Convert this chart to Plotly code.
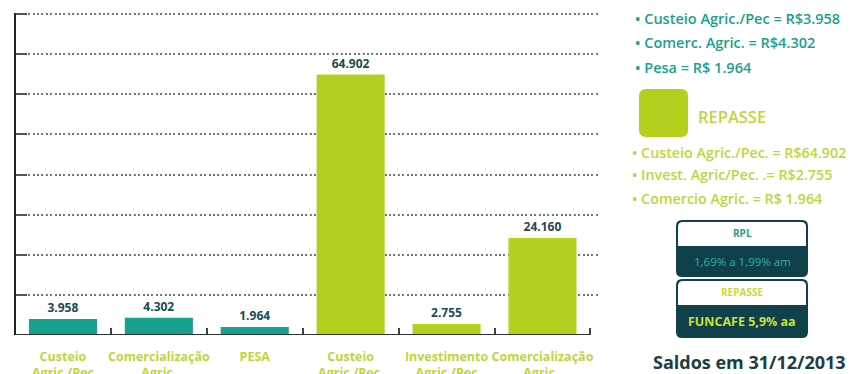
import plotly.graph_objects as go

# Saldos por linha (R$ milhões)
categorias = ["Custeio<br>Agric./Pec", "Comercialização<br>Agric.", "PESA",
              "Custeio<br>Agric./Pec ", "Investimento<br>Agric./Pec", "Comercialização<br>Agric. "]
valores = [3958, 4302, 1964, 64902, 2755, 24160]
grupo = ["RPL", "RPL", "RPL", "REPASSE", "REPASSE", "REPASSE"]

legenda_rpl = ["• Custeio Agric./Pec = R$3.958", "• Comerc. Agric. = R$4.302", "• Pesa = R$ 1.964"]
legenda_repasse = ["• Custeio Agric./Pec. = R$64.902", "• Invest. Agric/Pec. .= R$2.755",
                   "• Comercio Agric. = R$ 1.964"]
caixas = [("RPL", "1,69% a 1,99% am"), ("REPASSE", "FUNCAFE 5,9% aa")]
rodape = "Saldos em 31/12/2013"
y_ticks = [0, 10000, 20000, 30000, 40000, 50000, 60000, 70000, 80000]

TEAL = "#17a28f"
VERDE = "#b5cf1f"
VERDE_TXT = "#bfd53a"
ESCURO = "#10404a"

cores = [TEAL if g == "RPL" else VERDE for g in grupo]

W, H = 856, 374
Y_TOP = 80000          # topo da escala desenhada
Y_MAX = 82000          # folga acima do topo para a última linha de grade
L, R, B = 15, 600, 335
T = round(B - (B - 14) * Y_MAX / Y_TOP)


def px(x):
    return (x - L) / (R - L)


def py(y):
    return (B - y) / (B - T)


def rounded(x0, y0, x1, y1, r, top_only=False):
    ax0, ax1 = px(x0), px(x1)
    ay0, ay1 = py(y0), py(y1)  # ay0 top, ay1 bottom
    rx = r / (R - L)
    ry = r / (B - T)
    if top_only:
        return (f"M {ax0},{ay1} L {ax0},{ay0 - ry} Q {ax0},{ay0} {ax0 + rx},{ay0} "
                f"L {ax1 - rx},{ay0} Q {ax1},{ay0} {ax1},{ay0 - ry} L {ax1},{ay1} Z")
    return (f"M {ax0 + rx},{ay0} L {ax1 - rx},{ay0} Q {ax1},{ay0} {ax1},{ay0 - ry} "
            f"L {ax1},{ay1 + ry} Q {ax1},{ay1} {ax1 - rx},{ay1} L {ax0 + rx},{ay1} "
            f"Q {ax0},{ay1} {ax0},{ay1 + ry} L {ax0},{ay0 - ry} Q {ax0},{ay0} {ax0 + rx},{ay0} Z")


fig = go.Figure()
fig.add_trace(go.Bar(
    x=categorias, y=valores, marker=dict(color=cores, line=dict(width=0)),
    texttemplate="%{y:,}", textposition="outside", cliponaxis=False,
    textfont=dict(family="Open Sans", size=12, color="#1d4a55", weight="bold"),
    hoverinfo="skip",
))

shapes = []
# eixos: base horizontal e linha vertical até o topo da escala
shapes.append(dict(type="line", xref="x", yref="y", x0=-0.5, x1=5.5, y0=0, y1=0,
                   line=dict(color="#333", width=2), layer="above"))
shapes.append(dict(type="line", xref="paper", yref="y", x0=0, x1=0, y0=0, y1=Y_TOP + 250,
                   line=dict(color="#222", width=2), layer="above"))
# marcador da legenda REPASSE
shapes.append(dict(type="path", xref="paper", yref="paper",
                   path=rounded(639, 89, 688, 137, 7), fillcolor=VERDE, line=dict(width=0)))
# caixas de taxas
for (top, div, bot) in [(220, 246, 277), (279, 305, 338)]:
    shapes.append(dict(type="path", xref="paper", yref="paper",
                       path=rounded(676, top, 808, bot, 6), fillcolor=ESCURO, line=dict(width=0)))
    shapes.append(dict(type="path", xref="paper", yref="paper",
                       path=rounded(678, top + 2, 806, div, 5, top_only=True),
                       fillcolor="white", line=dict(width=0)))

ann = []
for i, t in enumerate(legenda_rpl):
    ann.append(dict(x=px(633), y=py([18, 43, 67][i]), text=t,
                    font=dict(color=TEAL, size=14.5, weight=600)))
ann.append(dict(x=px(696), y=py(117), text="REPASSE",
                font=dict(color=VERDE_TXT, size=16.5, weight=600)))
for i, t in enumerate(legenda_repasse):
    ann.append(dict(x=px(630), y=py([152, 175, 198][i]), text=t,
                    font=dict(color=VERDE_TXT, size=14.3, weight=600)))
for (titulo, taxa), (yt, yb), (ct, cb) in zip(
        caixas, [(233, 261), (292, 321)], [("#1e9e90", "#2ab3a2"), ("#c9da34", "#c9e03c")]):
    ann.append(dict(x=px(742), y=py(yt), xanchor="center", text=f"<b>{titulo}</b>",
                    font=dict(color=ct, size=10)))
    ann.append(dict(x=px(742), y=py(yb), xanchor="center", text=taxa,
                    font=dict(color=cb, size=11.5 if titulo == "RPL" else 12.5,
                              weight="bold" if titulo == "REPASSE" else "normal")))
ann.append(dict(x=px(749), y=py(362), xanchor="center", text=f"<b>{rodape}</b>",
                font=dict(color="#1c3d46", size=18)))
for a in ann:
    a.setdefault("xanchor", "left")
    a.update(xref="paper", yref="paper", yanchor="middle", showarrow=False)
    a["font"].setdefault("family", "Open Sans")

fig.update_layout(
    width=W, height=H, margin=dict(l=L, r=W - R, t=T, b=H - B, autoexpand=False),
    paper_bgcolor="white", plot_bgcolor="white", showlegend=False,
    separators=",.", bargap=0.29, shapes=shapes, annotations=ann,
    font=dict(family="Open Sans"),
)
fig.update_xaxes(
    type="category", range=[-0.5, 5.6], showline=False, showgrid=False, zeroline=False,
    tickson="boundaries", ticks="inside", ticklen=7, tickwidth=2, tickcolor="#444",
    tickfont=dict(family="Open Sans", size=12.5, color=VERDE_TXT, weight="bold"),
    tickangle=0, automargin=False, ticklabelstandoff=12,
)
fig.update_yaxes(
    range=[0, Y_MAX], tickvals=y_ticks, showticklabels=False, showline=False, automargin=False,
    ticks="inside", ticklen=12, tickwidth=2, tickcolor="#555",
    showgrid=True, gridcolor="#6f7878", gridwidth=2, griddash="2px,2.4px", zeroline=False,
)

fig.write_html("out.html")
